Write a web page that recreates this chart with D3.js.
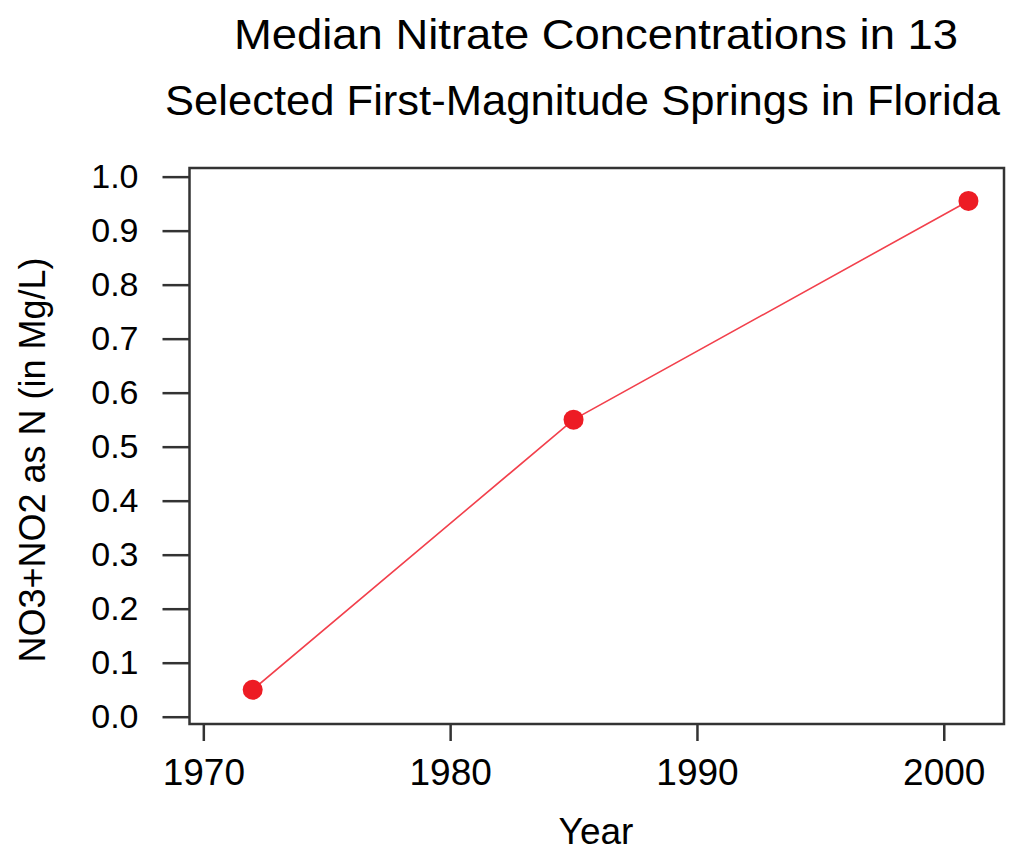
<!DOCTYPE html>
<html>
<head>
<meta charset="utf-8">
<style>
  body { margin: 0; background: #fff; }
  svg text { font-family: "Liberation Sans", Arial, sans-serif; fill: #000; }
</style>
<script src="https://cdnjs.cloudflare.com/ajax/libs/d3/7.8.5/d3.min.js"></script>
</head>
<body>
<svg id="chart" width="1029" height="851"></svg>
<script>
// data
let years = [1972, 1985, 2001];
let nitrate = [0.05, 0.55, 0.955];
let xTicks = [1970, 1980, 1990, 2000];
let yTicks = [0, 0.1, 0.2, 0.3, 0.4, 0.5, 0.6, 0.7, 0.8, 0.9, 1.0];
let titleLines = ["Median Nitrate Concentrations in 13", "Selected First-Magnitude Springs in Florida"];

let plotLeft = 189.5, plotRight = 1004, plotTop = 168, plotBottom = 724;

let x = d3.scaleLinear().domain([1969.44, 2002.44]).range([plotLeft, plotRight]);
let y = d3.scaleLinear().domain([-0.0135, 1.016]).range([plotBottom, plotTop]);

let svg = d3.select("#chart");

// title (the original bitmap font runs a bit wider than Liberation Sans)
let titleCx = [596, 582.5], titleW = [724, 835];
svg.selectAll(".title")
  .data(titleLines)
  .join("text")
    .attr("class", "title")
    .attr("x", (d, i) => titleCx[i])
    .attr("y", (d, i) => 49 + i * 66)
    .attr("text-anchor", "middle")
    .attr("textLength", (d, i) => titleW[i])
    .attr("lengthAdjust", "spacingAndGlyphs")
    .style("font-size", "43px")
    .text(d => d);

// frame
svg.append("rect")
  .attr("x", plotLeft).attr("y", plotTop)
  .attr("width", plotRight - plotLeft).attr("height", plotBottom - plotTop)
  .attr("fill", "none").attr("stroke", "#333").attr("stroke-width", 2.5);

// axes
let xAxis = svg.append("g")
  .attr("transform", `translate(0,${plotBottom})`)
  .call(d3.axisBottom(x).tickValues(xTicks).tickFormat(d3.format("d")).tickSize(17).tickPadding(18));
xAxis.select(".domain").remove();
xAxis.selectAll("line").attr("stroke", "#333").attr("stroke-width", 2.5);
xAxis.selectAll("text").style("font-size", "37px").attr("fill", "#000");

let yAxis = svg.append("g")
  .attr("transform", `translate(${plotLeft},0)`)
  .call(d3.axisLeft(y).tickValues(yTicks).tickFormat(d3.format(".1f")).tickSize(27).tickPadding(24));
yAxis.select(".domain").remove();
yAxis.selectAll("line").attr("stroke", "#333").attr("stroke-width", 2.5);
yAxis.selectAll("text").style("font-size", "34px").attr("fill", "#000");

// axis titles
svg.append("text")
  .attr("x", 596).attr("y", 844)
  .attr("text-anchor", "middle")
  .style("font-size", "37px")
  .text("Year");

svg.append("text")
  .attr("transform", "translate(45,460) rotate(-90)")
  .attr("text-anchor", "middle")
  .style("font-size", "36px")
  .text("NO3+NO2 as N (in Mg/L)");

// series
let pts = years.map((d, i) => ({year: d, value: nitrate[i]}));

svg.append("path")
  .datum(pts)
  .attr("fill", "none")
  .attr("stroke", "#f2404c")
  .attr("stroke-width", 1.6)
  .attr("d", d3.line().x(d => x(d.year)).y(d => y(d.value)));

svg.selectAll(".pt")
  .data(pts)
  .join("circle")
    .attr("class", "pt")
    .attr("cx", d => x(d.year))
    .attr("cy", d => y(d.value))
    .attr("r", 10)
    .attr("fill", "#ed1c24");
</script>
</body>
</html>
